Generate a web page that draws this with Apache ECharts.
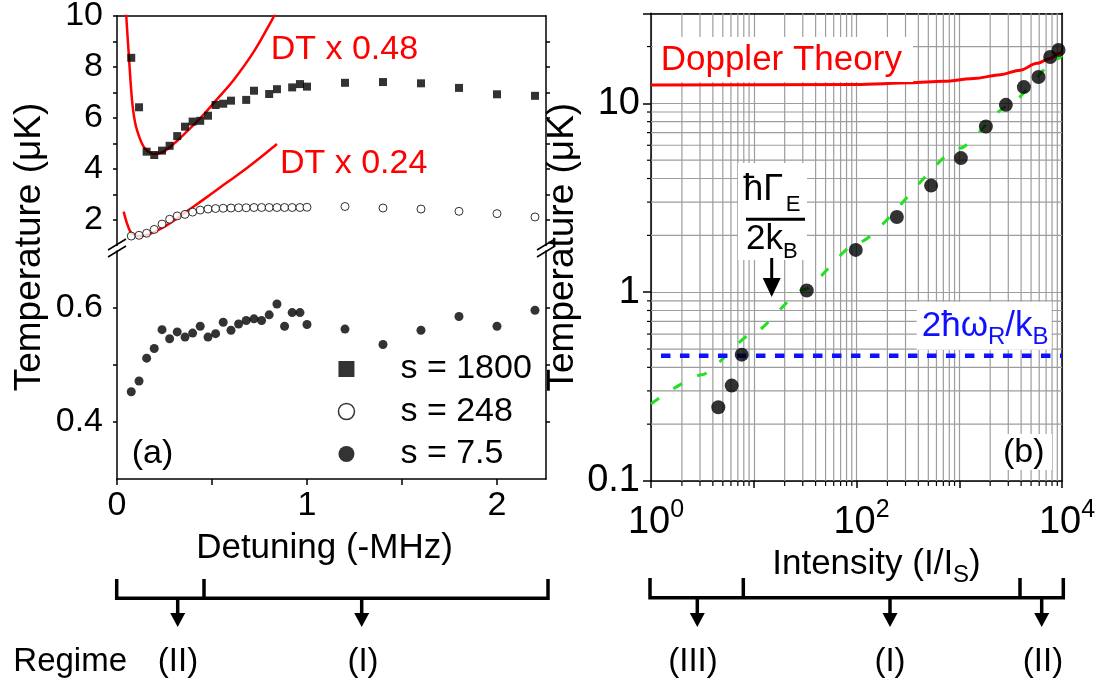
<!DOCTYPE html>
<html><head><meta charset="utf-8">
<script src="https://cdn.jsdelivr.net/npm/echarts@6/dist/echarts.min.js"></script>
<style>html,body{margin:0;padding:0;background:#fff}#c{width:1113px;height:687px}</style>
</head><body><div id="c"></div>
<script>
const FONT = '"Liberation Sans", Arial, Helvetica, sans-serif';

// ---------- Panel (a): temperature vs detuning ----------
const detuningSquares = [0.075,0.116,0.156,0.196,0.237,0.277,0.317,0.358,0.398,0.438,0.479,0.519,0.559,0.6,0.68,0.721,0.801,0.842,0.922,0.963,1.0,1.2,1.4,1.6,1.8,2.0,2.2];
const tempS1800 = [8.36,6.42,4.68,4.55,4.72,4.91,5.29,5.66,5.86,5.89,6.09,6.51,6.56,6.68,6.71,7.07,6.94,7.13,7.2,7.33,7.23,7.38,7.41,7.36,7.18,6.93,6.87];
const detuningCircles = [0.075,0.116,0.156,0.196,0.237,0.277,0.317,0.358,0.398,0.438,0.479,0.519,0.559,0.6,0.64,0.68,0.721,0.761,0.801,0.842,0.882,0.922,0.963,1.0,1.2,1.4,1.6,1.8,2.0,2.2];
const tempS248 = [1.37,1.40,1.48,1.63,1.84,2.03,2.16,2.22,2.31,2.39,2.43,2.45,2.46,2.47,2.48,2.48,2.49,2.49,2.49,2.49,2.49,2.49,2.49,2.50,2.53,2.47,2.43,2.34,2.25,2.12];
const tempS7p5 = [0.453,0.472,0.512,0.529,0.562,0.546,0.558,0.549,0.556,0.568,0.549,0.555,0.575,0.561,0.572,0.578,0.581,0.578,0.588,0.607,0.568,0.592,0.592,0.571,0.563,0.536,0.561,0.585,0.568,0.596];
const dt048Detuning = [0.046,0.049,0.061,0.079,0.096,0.119,0.14,0.165,0.193,0.24,0.279,0.307,0.358,0.438,0.52,0.614,0.72,0.816,0.84];
const dt048Temp = [10.5,9.97,8.6,6.71,5.79,5.22,4.88,4.68,4.59,4.66,4.86,5.04,5.40,5.99,6.68,7.49,8.6,9.85,10.2];
const dt024Detuning = [0.035,0.05,0.07,0.09,0.114,0.158,0.21,0.263,0.316,0.368,0.447,0.526,0.605,0.684,0.763,0.842];
const dt024Temp = [2.33,1.93,1.54,1.42,1.37,1.41,1.58,1.80,2.06,2.34,2.76,3.19,3.61,4.04,4.50,4.98];
const detuningTicks = [0,0.5,1,1.5,2];
const detuningLabels = [0,1,2];
const upperTempTicks = [2,3,4,5,6,7,8,9,10];
const upperTempLabels = [2,4,6,8,10];
const lowerTempTicks = [0.4,0.5,0.6];
const lowerTempLabels = [0.4,0.6];

// ---------- Panel (b): temperature vs intensity ----------
const intensity = [4.52,6.1,7.64,32.8,98.4,247,532,1037,1816,2843,4256,5907,7674,9248];
const tempB = [0.246,0.32,0.467,1.02,1.675,2.5,3.67,5.13,7.54,9.82,12.2,13.8,17.6,19.2];
const dopplerIntensity = [1,100,333,703,1486,2500,3917,5702,7674,9594,10000];
const dopplerTemp = [12.5,12.6,12.85,13.1,13.6,14.2,15.0,16.3,17.3,18.5,18.8];
const fitIntensity = [1,3.12,9.9,30.4,100.7,1021,2906,9250,10000];
const fitTemp = [0.256,0.365,0.607,1.03,1.82,5.79,9.6,17.3,18.0];
const recoilIntensity = [1.25,10000];
const recoilTemp = [0.46,0.46];
const logMultipliers = [2,3,4,5,6,7,8,9];
const intensityDecades = [1,10,100,1000];
const tempDecades = [0.1,1,10];
const intensityLabelExps = [0,2,4];

const zip = (a,b) => a.map((v,i) => [v,b[i]]);
const minorX = [];
intensityDecades.forEach(d => logMultipliers.forEach(m => minorX.push([m*d, 1])));
const minorY = [];
tempDecades.forEach(d => logMultipliers.forEach(m => { if (m*d < 30) minorY.push([1, m*d]); }));

const BLACK = '#000';
const GRIDC = '#9d9d9d';
const axisLineS = {show:true, onZero:false, lineStyle:{color:BLACK, width:1.5}};
const near = (v, arr) => arr.some(a => Math.abs(a - v) < 1e-6);

function vMinor(params, api) {
  const cs = params.coordSys;
  const x = api.coord([api.value(0), 1])[0];
  const top = cs.y, bot = cs.y + cs.height;
  return {type:'group', children:[
    {type:'line', shape:{x1:x,y1:top,x2:x,y2:bot}, style:{stroke:GRIDC, lineWidth:1.2}},
    {type:'line', shape:{x1:x,y1:bot,x2:x,y2:bot+5}, style:{stroke:BLACK, lineWidth:1.2}}
  ]};
}
function hMinor(params, api) {
  const cs = params.coordSys;
  const y = api.coord([1, api.value(1)])[1];
  const l = cs.x, r = cs.x + cs.width;
  return {type:'group', children:[
    {type:'line', shape:{x1:l,y1:y,x2:r,y2:y}, style:{stroke:GRIDC, lineWidth:1.2}},
    {type:'line', shape:{x1:l-4,y1:y,x2:l,y2:y}, style:{stroke:BLACK, lineWidth:1.2}}
  ]};
}

const txt = (text, x, y, size, color, extra) => Object.assign({
  type:'text', x:x, y:y, z:12,
  style:Object.assign({text:text, fill:color||BLACK, font:size+'px '+FONT, fontSize:size, fontFamily:FONT,
    textAlign:'left', align:'left', textVerticalAlign:'middle', verticalAlign:'middle'}, (extra&&extra.style)||{})
}, extra && extra.rotation !== undefined ? {rotation:extra.rotation} : {});
const line = (x1,y1,x2,y2,w) => ({type:'line', z:12, shape:{x1,y1,x2,y2}, style:{stroke:BLACK, lineWidth:w||3.5}});
const arrowHead = (x, yTop, yTip, hw) => ({type:'polygon', z:12, shape:{points:[[x-hw,yTop],[x+hw,yTop],[x,yTip]]}, style:{fill:BLACK}});
const box = (x,y,w,h) => ({type:'rect', z:11, shape:{x,y,width:w,height:h}, style:{fill:'#fff'}});

const graphics = [
  txt('Temperature (μK)', 30, 247, 37, BLACK, {rotation:Math.PI/2, style:{textAlign:'center', align:'center'}}),
  line(108,250,126,239,1.5), line(108,257,126,246,1.5),
  line(537,250,555,239,1.5), line(537,257,555,246,1.5),
  txt('DT x 0.48', 270.7, 49.5, 34, '#ff0000'),
  txt('DT x 0.24', 280, 163.3, 34, '#ff0000'),
  txt('(a)', 131.7, 453.5, 34),
  box(653,37,260,45),
  txt('Doppler Theory', 660.7, 60.5, 35, '#ff0000'),
  box(738,163,69,97),
  txt('ħΓ', 743.3, 190, 36),
  txt('E', 785.7, 204.5, 22),
  {type:'line', z:12, shape:{x1:746,y1:219.3,x2:805,y2:219.3}, style:{stroke:BLACK, lineWidth:3}},
  txt('2k', 746, 239, 35),
  txt('B', 783, 251.8, 22),
  line(771.7,258,771.7,281,3), arrowHead(771.7,278,297,9),
  box(916.7,301.7,135,48),
  {type:'text', x:921.7, y:309, z:12, style:{text:'{m|2ħω}{s|R}{m|/k}{s|B}', textAlign:'left', align:'left', textVerticalAlign:'top', verticalAlign:'top', fill:'#1010ff',
     rich:{m:{fontSize:35, fontFamily:FONT, lineHeight:40, verticalAlign:'top', fill:'#1010ff', color:'#1010ff'},
           s:{fontSize:24, fontFamily:FONT, lineHeight:16, verticalAlign:'bottom', fill:'#1010ff', color:'#1010ff'}}}},
  box(1000,434,52,36),
  txt('(b)', 1003, 452.5, 34),
  {type:'polyline', z:12, shape:{points:[[116.7,579],[116.7,598.3],[548,598.3],[548,579]]}, style:{stroke:BLACK, lineWidth:3.5, fill:null}},
  line(204,579,204,598.3),
  line(177.7,598,177.7,615), arrowHead(177.7,613,627,7.5),
  line(361.7,598,361.7,615), arrowHead(361.7,613,627,7.5),
  txt('Regime', 13.3, 661.7, 33),
  txt('(II)', 178, 661.7, 33, BLACK, {style:{textAlign:'center', align:'center'}}),
  txt('(I)', 363, 661.7, 33, BLACK, {style:{textAlign:'center', align:'center'}}),
  {type:'polyline', z:12, shape:{points:[[650,578],[650,597.7],[1063.3,597.7],[1063.3,578]]}, style:{stroke:BLACK, lineWidth:3.5, fill:null}},
  line(743.3,578,743.3,597.7), line(1020,578,1020,597.7),
  line(697.3,597.7,697.3,615), arrowHead(697.3,613,627,7.5),
  line(890,597.7,890,615), arrowHead(890,613,627,7.5),
  line(1041.7,597.7,1041.7,615), arrowHead(1041.7,613,627,7.5),
  txt('(III)', 693, 661.7, 33, BLACK, {style:{textAlign:'center', align:'center'}}),
  txt('(I)', 890, 661.7, 33, BLACK, {style:{textAlign:'center', align:'center'}}),
  txt('(II)', 1043, 661.7, 33, BLACK, {style:{textAlign:'center', align:'center'}})
];

const labelA = {color:BLACK, fontSize:34, fontFamily:FONT};
const option = {
  animation:false,
  backgroundColor:'#fff',
  grid:[
    {left:117, top:16, width:429, height:229.5, outerBoundsMode:'none'},
    {left:117, top:251, width:429, height:228, outerBoundsMode:'none'},
    {left:651, top:13.3, width:411, height:467.7, outerBoundsMode:'none'}
  ],
  xAxis:[
    {gridIndex:0, type:'value', position:'top', min:0, max:2.258, interval:0.5, axisLine:axisLineS,
     axisTick:{show:false}, axisLabel:{show:false}, splitLine:{show:false}},
    {gridIndex:1, type:'value', position:'bottom', min:0, max:2.258, interval:0.5, axisLine:axisLineS,
     axisTick:{show:true, length:6, customValues:detuningTicks, lineStyle:{color:BLACK, width:1.5}},
     axisLabel:Object.assign({margin:7, lineHeight:40, customValues:detuningLabels, formatter:v => String(Math.round(v))}, labelA),
     splitLine:{show:false},
     name:'Detuning (-MHz)', nameLocation:'middle', nameGap:49,
     nameTextStyle:{color:BLACK, fontSize:35, fontFamily:FONT, lineHeight:40, padding:[0,14,0,0]}},
    {gridIndex:2, type:'log', logBase:10, position:'bottom', min:1, max:10000, axisLine:axisLineS,
     axisTick:{show:true, length:7, lineStyle:{color:BLACK, width:1.5}},
     axisLabel:{margin:17, padding:[0,0,0,10], formatter:v => {
        const e = Math.round(Math.log10(v));
        return intensityLabelExps.includes(e) && Math.abs(Math.log10(v)-e) < 1e-6 ? '{b|10}{e|' + e + '}' : '';
      }, rich:{b:{fontSize:38, fontFamily:FONT, color:BLACK, lineHeight:44, verticalAlign:'bottom'},
               e:{fontSize:25, fontFamily:FONT, color:BLACK, lineHeight:19, verticalAlign:'top'}}},
     splitLine:{show:true, lineStyle:{color:GRIDC, width:1.2}},
     name:'{m|Intensity (I/I}{s|S}{m|)}', nameLocation:'middle', nameGap:51,
     nameTextStyle:{padding:[0,0,0,40], rich:{m:{fontSize:35, fontFamily:FONT, color:BLACK, lineHeight:40, verticalAlign:'top'},
                                            s:{fontSize:24, fontFamily:FONT, color:BLACK, lineHeight:16, verticalAlign:'bottom'}}}},
    {gridIndex:2, type:'log', logBase:10, position:'top', min:1, max:10000, axisLine:axisLineS,
     axisTick:{show:false}, axisLabel:{show:false}, splitLine:{show:false}}
  ],
  yAxis:[
    {gridIndex:0, type:'value', position:'left', min:1, max:10, interval:1, axisLine:axisLineS,
     axisTick:{show:true, length:4, customValues:upperTempTicks, lineStyle:{color:BLACK, width:1.5}},
     axisLabel:Object.assign({margin:14, customValues:upperTempLabels, formatter:v => String(Math.round(v))}, labelA),
     splitLine:{show:false}},
    {gridIndex:0, type:'value', position:'right', min:1, max:10, interval:1, axisLine:axisLineS,
     axisTick:{show:true, length:4, customValues:upperTempTicks.slice(0,-1), lineStyle:{color:BLACK, width:1.5}},
     axisLabel:{show:false}, splitLine:{show:false}},
    {gridIndex:1, type:'value', position:'left', min:0.3, max:0.7, interval:0.1, axisLine:axisLineS,
     axisTick:{show:true, length:4, customValues:lowerTempTicks, lineStyle:{color:BLACK, width:1.5}},
     axisLabel:Object.assign({margin:14, customValues:lowerTempLabels, formatter:v => v.toFixed(1)}, labelA),
     splitLine:{show:false}},
    {gridIndex:1, type:'value', position:'right', min:0.3, max:0.7, interval:0.1, axisLine:axisLineS,
     axisTick:{show:true, length:4, customValues:lowerTempTicks, lineStyle:{color:BLACK, width:1.5}},
     axisLabel:{show:false}, splitLine:{show:false}},
    {gridIndex:2, type:'log', logBase:10, position:'left', min:0.1, max:30, axisLine:axisLineS,
     axisTick:{show:true, length:8, lineStyle:{color:BLACK, width:1.5}},
     axisLabel:{margin:11, color:BLACK, fontSize:38, fontFamily:FONT, formatter:v => {
        const l = Math.log10(v);
        return Math.abs(l - Math.round(l)) < 1e-6 && near(v, tempDecades) ? String(tempDecades.find(a => Math.abs(a-v)<1e-6)) : '';
      }},
     splitLine:{show:true, lineStyle:{color:GRIDC, width:1.2}},
     name:'Temperature (μK)', nameLocation:'middle', nameGap:50,
     nameTextStyle:{color:BLACK, fontSize:37, fontFamily:FONT, lineHeight:40}},
    {gridIndex:2, type:'log', logBase:10, position:'right', min:0.1, max:30, axisLine:axisLineS,
     axisTick:{show:false}, axisLabel:{show:false}, splitLine:{show:false}}
  ],
  legend:{
    left:337.7, top:352, orient:'vertical', itemWidth:16, itemHeight:16, itemGap:8.5, padding:0, selectedMode:false,
    data:[{name:'s = 1800', icon:'rect'},
          {name:'s = 248', icon:'circle', itemStyle:{color:'#fff', borderColor:BLACK, borderWidth:1.5}},
          {name:'s = 7.5', icon:'circle'}],
    formatter:n => '{t|' + n + '}',
    textStyle:{rich:{t:{fontSize:34, fontFamily:FONT, color:BLACK, lineHeight:42, padding:[0,0,0,41]}}}
  },
  series:[
    {type:'custom', xAxisIndex:2, yAxisIndex:4, z:1, silent:true, renderItem:vMinor, data:minorX},
    {type:'custom', xAxisIndex:2, yAxisIndex:4, z:1, silent:true, renderItem:hMinor, data:minorY},
    {type:'line', xAxisIndex:0, yAxisIndex:0, z:3, data:zip(dt048Detuning, dt048Temp), smooth:0.35,
     showSymbol:false, clip:true, lineStyle:{color:'#ff0000', width:2.5}, silent:true},
    {type:'line', xAxisIndex:0, yAxisIndex:0, z:3, data:zip(dt024Detuning, dt024Temp), smooth:0.35,
     showSymbol:false, clip:true, lineStyle:{color:'#ff0000', width:2.5}, silent:true},
    {name:'s = 1800', type:'scatter', xAxisIndex:0, yAxisIndex:0, z:4, symbol:'rect', symbolSize:8,
     itemStyle:{color:BLACK}, data:zip(detuningSquares, tempS1800)},
    {name:'s = 248', type:'scatter', xAxisIndex:0, yAxisIndex:0, z:4, symbol:'circle', symbolSize:8,
     itemStyle:{color:'#fff', borderColor:BLACK, borderWidth:1}, data:zip(detuningCircles, tempS248)},
    {name:'s = 7.5', type:'scatter', xAxisIndex:1, yAxisIndex:2, z:4, symbol:'circle', symbolSize:9,
     itemStyle:{color:BLACK}, data:zip(detuningCircles, tempS7p5)},
    {type:'line', xAxisIndex:2, yAxisIndex:4, z:3, data:zip(dopplerIntensity, dopplerTemp), smooth:0.3, smoothMonotone:'x',
     showSymbol:false, lineStyle:{color:'#ff0000', width:3}, silent:true},
    {type:'line', xAxisIndex:2, yAxisIndex:4, z:3, data:zip(fitIntensity, fitTemp), smooth:0.2, smoothMonotone:'x',
     showSymbol:false, lineStyle:{color:'#22e022', width:3, type:[10,17]}, silent:true},
    {type:'line', xAxisIndex:2, yAxisIndex:4, z:3, data:zip(recoilIntensity, recoilTemp),
     showSymbol:false, lineStyle:{color:'#1010ff', width:4.5, type:[9.5,9.5]}, silent:true},
    {type:'scatter', xAxisIndex:2, yAxisIndex:4, z:5, symbol:'circle', symbolSize:14,
     itemStyle:{color:BLACK}, data:zip(intensity, tempB)}
  ],
  graphic:{elements:graphics}
};
const chart = echarts.init(document.getElementById('c'), null, {renderer:'canvas'});
chart.setOption(option);
</script></body></html>
